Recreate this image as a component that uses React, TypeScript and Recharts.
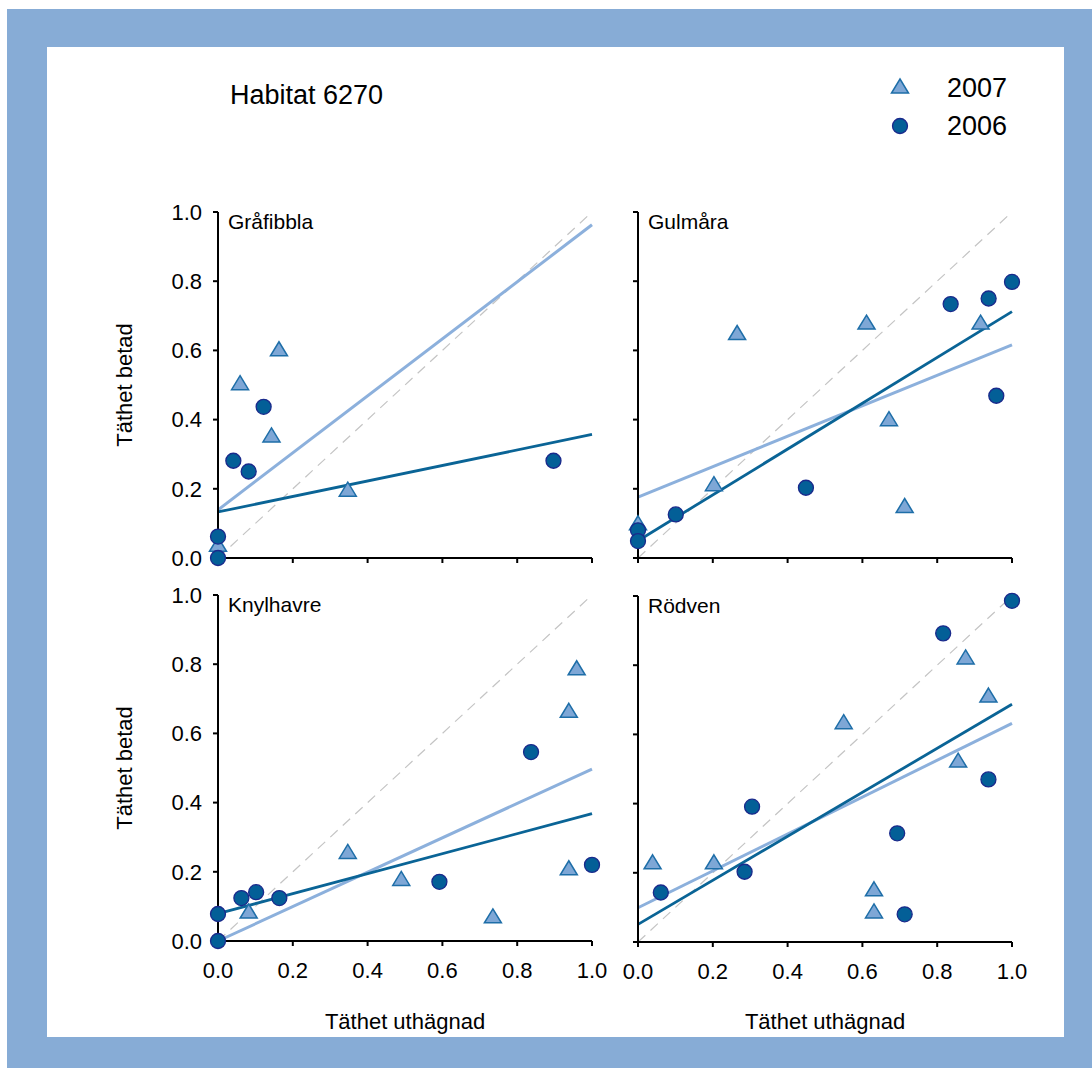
import React from "react";
import { ReferenceLine, Scatter, ScatterChart, XAxis, YAxis } from "recharts";

const axisTicks = [0, 0.2, 0.4, 0.6, 0.8, 1.0];

// [uthägnad, betad] pairs
const grafibbla2007 = [[0.059, 0.5], [0.163, 0.598], [0.143, 0.349], [0.347, 0.192], [0.0, 0.033]];
const grafibbla2006 = [[0.041, 0.281], [0.082, 0.25], [0.122, 0.437], [0.897, 0.281], [0.0, 0.062], [0.0, 0.0]];
const grafibblaFit2007 = [0.139, 0.963];
const grafibblaFit2006 = [0.133, 0.357];

const gulmara2007 = [[0.265, 0.645], [0.611, 0.675], [0.916, 0.675], [0.671, 0.396], [0.713, 0.145], [0.203, 0.208], [0.0, 0.095]];
const gulmara2006 = [[0.836, 0.734], [0.9375, 0.75], [1.0, 0.798], [0.958, 0.469], [0.449, 0.203], [0.101, 0.126], [0.0, 0.08], [0.0, 0.049]];
const gulmaraFit2007 = [0.176, 0.616];
const gulmaraFit2006 = [0.05, 0.712];

const knylhavre2007 = [[0.959, 0.783], [0.938, 0.66], [0.938, 0.205], [0.347, 0.252], [0.49, 0.174], [0.735, 0.066], [0.082, 0.08]];
const knylhavre2006 = [[0.837, 0.546], [1.0, 0.22], [0.592, 0.171], [0.0625, 0.124], [0.102, 0.141], [0.164, 0.124], [0.0, 0.078], [0.0, 0.0]];
const knylhavreFit2007 = [0.0, 0.497];
const knylhavreFit2006 = [0.079, 0.368];

const rodven2007 = [[0.039, 0.225], [0.203, 0.225], [0.55, 0.63], [0.876, 0.817], [0.937, 0.707], [0.856, 0.519], [0.631, 0.147], [0.631, 0.083]];
const rodven2006 = [[1.0, 0.986], [0.816, 0.892], [0.937, 0.47], [0.693, 0.314], [0.713, 0.08], [0.305, 0.391], [0.285, 0.203], [0.061, 0.143]];
const rodvenFit2007 = [0.099, 0.632];
const rodvenFit2006 = [0.051, 0.687];

const FONT = "'Liberation Sans', Arial, sans-serif";
const TRI_FILL = "#7ea7d6";
const TRI_STROKE = "#1e6ea8";
const DOT_FILL = "#035f97";
const DOT_STROKE = "#1a2a8c";
const LINE_2007 = "#8cb0dc";
const LINE_2006 = "#0a6496";

const PLOT_W = 374;
const PLOT_H = 346;
const Y_W = 60;
const M_TOP = 12;
const X_H = 50;

const toPoints = (pairs: number[][]) => pairs.map(([x, y]) => ({ x, y }));

function Triangle(props: any) {
  const { cx, cy } = props;
  if (cx == null || cy == null) return null;
  const h = 14;
  const w = 8.5;
  return (
    <path
      d={`M${cx},${cy - (2 * h) / 3} L${cx + w},${cy + h / 3} L${cx - w},${cy + h / 3} Z`}
      fill={TRI_FILL}
      stroke={TRI_STROKE}
      strokeWidth={1.5}
    />
  );
}

function Dot(props: any) {
  const { cx, cy } = props;
  if (cx == null || cy == null) return null;
  return <circle cx={cx} cy={cy} r={7.5} fill={DOT_FILL} stroke={DOT_STROKE} strokeWidth={1.3} />;
}

type PanelProps = {
  name: string;
  tri: number[][];
  dots: number[][];
  fit07: number[];
  fit06: number[];
  left: number;
  top: number;
  showX: boolean;
  showY: boolean;
};

function Panel({ name, tri, dots, fit07, fit06, left, top, showX, showY }: PanelProps) {
  const tickStyle = { fontSize: 22, fill: "#000", fontFamily: FONT };
  return (
    <div style={{ position: "absolute", left: left - Y_W, top: top - M_TOP }}>
      <ScatterChart
        width={Y_W + PLOT_W + 22}
        height={M_TOP + PLOT_H + X_H}
        margin={{ top: M_TOP, right: 22, bottom: 0, left: 0 }}
      >
        <XAxis
          type="number"
          dataKey="x"
          domain={[0, 1]}
          ticks={axisTicks}
          interval={0}
          height={X_H}
          tick={tickStyle}
          tickSize={5}
          tickMargin={16}
          tickFormatter={(v: number) => (showX ? v.toFixed(1) : "")}
          axisLine={{ stroke: "#000", strokeWidth: 2 }}
          tickLine={{ stroke: "#000", strokeWidth: 2 }}
        />
        <YAxis
          type="number"
          dataKey="y"
          domain={[0, 1]}
          ticks={axisTicks}
          interval={0}
          width={Y_W}
          tick={tickStyle}
          tickSize={5}
          tickMargin={11}
          tickFormatter={(v: number) => (showY ? v.toFixed(1) : "")}
          axisLine={{ stroke: "#000", strokeWidth: 2 }}
          tickLine={{ stroke: "#000", strokeWidth: 2 }}
        />
        <ReferenceLine
          segment={[{ x: 0, y: 0 }, { x: 1, y: 1 }]}
          stroke="#c4c4c4"
          strokeWidth={1.2}
          strokeDasharray="10 7"
        />
        <ReferenceLine
          segment={[{ x: 0, y: fit07[0] }, { x: 1, y: fit07[1] }]}
          stroke={LINE_2007}
          strokeWidth={3}
        />
        <ReferenceLine
          segment={[{ x: 0, y: fit06[0] }, { x: 1, y: fit06[1] }]}
          stroke={LINE_2006}
          strokeWidth={2.8}
        />
        <Scatter data={toPoints(tri)} shape={Triangle} isAnimationActive={false} />
        <Scatter data={toPoints(dots)} shape={Dot} isAnimationActive={false} />
      </ScatterChart>
      <div
        style={{
          position: "absolute",
          left: Y_W + 10,
          top: M_TOP - 2,
          fontSize: 21,
          fontFamily: FONT,
          lineHeight: "24px",
          whiteSpace: "nowrap",
        }}
      >
        {name}
      </div>
    </div>
  );
}

function VLabel({ x, y, text }: { x: number; y: number; text: string }) {
  return (
    <div
      style={{
        position: "absolute",
        left: x,
        top: y,
        transform: "translate(-50%, -50%) rotate(-90deg)",
        fontSize: 22,
        fontFamily: FONT,
        whiteSpace: "nowrap",
      }}
    >
      {text}
    </div>
  );
}

function HLabel({ x, y, text }: { x: number; y: number; text: string }) {
  return (
    <div
      style={{
        position: "absolute",
        left: x,
        top: y,
        transform: "translate(-50%, -50%)",
        fontSize: 22,
        fontFamily: FONT,
        whiteSpace: "nowrap",
      }}
    >
      {text}
    </div>
  );
}

export default function App() {
  return (
    <div style={{ position: "absolute", left: 0, top: 0, width: 1092, height: 1068, background: "#fff" }}>
      <div style={{ position: "absolute", left: 7, top: 9, width: 1085, height: 1059, background: "#87acd6" }} />
      <div style={{ position: "absolute", left: 47, top: 47, width: 1017, height: 990, background: "#fff" }} />

      <div
        style={{
          position: "absolute",
          left: 230,
          top: 95,
          transform: "translateY(-50%)",
          fontSize: 27,
          fontFamily: FONT,
          whiteSpace: "nowrap",
        }}
      >
        Habitat 6270
      </div>

      <svg style={{ position: "absolute", left: 880, top: 70 }} width={40} height={75}>
        <path d="M20,9 L28.5,23 L11.5,23 Z" fill={TRI_FILL} stroke={TRI_STROKE} strokeWidth={1.5} />
        <circle cx={20} cy={56} r={7.5} fill={DOT_FILL} stroke={DOT_STROKE} strokeWidth={1.3} />
      </svg>
      <div style={{ position: "absolute", left: 947, top: 88, transform: "translateY(-50%)", fontSize: 27, fontFamily: FONT }}>
        2007
      </div>
      <div style={{ position: "absolute", left: 947, top: 126, transform: "translateY(-50%)", fontSize: 27, fontFamily: FONT }}>
        2006
      </div>

      <Panel name="Gråfibbla" tri={grafibbla2007} dots={grafibbla2006} fit07={grafibblaFit2007} fit06={grafibblaFit2006} left={218} top={212} showX={false} showY={true} />
      <Panel name="Gulmåra" tri={gulmara2007} dots={gulmara2006} fit07={gulmaraFit2007} fit06={gulmaraFit2006} left={638} top={212} showX={false} showY={false} />
      <Panel name="Knylhavre" tri={knylhavre2007} dots={knylhavre2006} fit07={knylhavreFit2007} fit06={knylhavreFit2006} left={218} top={595} showX={true} showY={true} />
      <Panel name="Rödven" tri={rodven2007} dots={rodven2006} fit07={rodvenFit2007} fit06={rodvenFit2006} left={638} top={596} showX={true} showY={false} />

      <VLabel x={125} y={385} text="Täthet betad" />
      <VLabel x={125} y={768} text="Täthet betad" />
      <HLabel x={405} y={1022} text="Täthet uthägnad" />
      <HLabel x={825} y={1022} text="Täthet uthägnad" />
    </div>
  );
}
